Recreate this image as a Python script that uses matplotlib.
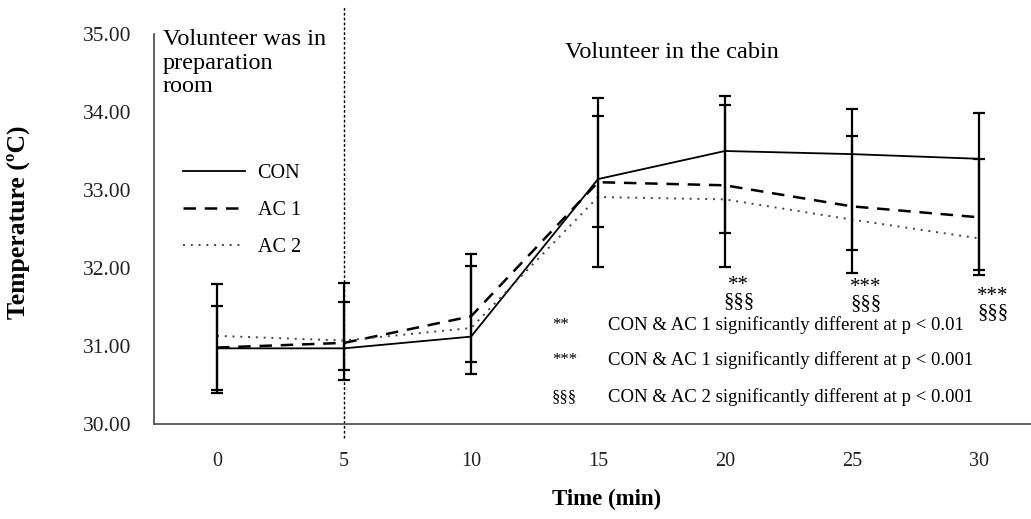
import matplotlib
matplotlib.use("Agg")
import matplotlib.pyplot as plt
import numpy as np

plt.rcParams['font.family'] = ['Liberation Serif', 'DejaVu Serif']

time = [0, 5, 10, 15, 20, 25, 30]
con = [30.97, 30.97, 31.12, 33.14, 33.50, 33.46, 33.40]
ac1 = [30.98, 31.04, 31.38, 33.10, 33.06, 32.79, 32.65]
ac2 = [31.13, 31.07, 31.23, 32.91, 32.88, 32.62, 32.38]
con_upper = [31.79, 31.81, 32.18, 34.18, 34.21, 34.04, 33.99]
con_lower = [30.40, 30.56, 30.64, 32.01, 32.01, 31.94, 31.91]
ac1_upper = [31.51, 31.56, 32.03, 33.95, 34.09, 33.69, 33.40]
ac1_lower = [30.44, 30.69, 30.79, 32.53, 32.45, 32.23, 31.97]
yticks = [30, 31, 32, 33, 34, 35]
sig_x = [20, 25, 30]
sig_labels = ["**\n§§§", "***\n§§§", "***\n§§§"]
sig_y = [31.45, 31.42, 31.31]
notes_sym = ["**", "***", "§§§"]
notes_txt = ["CON & AC 1 significantly different at p < 0.01",
             "CON & AC 1 significantly different at p < 0.001",
             "CON & AC 2 significantly different at p < 0.001"]

W, H = 1031, 519
fig = plt.figure(figsize=(W / 100, H / 100), dpi=100)
ax = fig.add_axes([153.5 / W, 1 - 424 / H, 889 / W, 390 / H])
ax.set_xlim(-2.5, 32.5)
ax.set_ylim(30, 35)

t = np.array(time)
ax.plot(t, con, color='black', lw=1.3, ls='-', label='CON', zorder=3)
ax.plot(t, ac1, color='black', lw=1.8, ls=(0, (5, 3.5)), label='AC 1', zorder=3)
ax.plot(t, ac2, color='#444444', lw=1.4, ls=(0, (1, 3)), label='AC 2', zorder=3)

for mean, up, lo in [(con, con_upper, con_lower), (ac1, ac1_upper, ac1_lower)]:
    m = np.array(mean)
    yerr = [m - np.array(lo), np.array(up) - m]
    ax.errorbar(t, m, yerr=yerr, fmt='none', ecolor='black', elinewidth=1.6,
                capsize=4, capthick=1.6, zorder=4)

ax.axvline(5, ymin=-0.035, ymax=1.07, color='black', lw=1.0, ls=(0, (2, 1.5)),
           clip_on=False, zorder=2)

ax.set_xticks(time)
ax.set_yticks(yticks)
ax.set_yticklabels([f"{v:.2f}" for v in yticks])
ax.tick_params(axis='both', length=0, colors='#222222')
ax.tick_params(axis='y', pad=16, labelsize=15.5)
ax.tick_params(axis='x', pad=20, labelsize=14.5)
for s in ['top', 'right']:
    ax.spines[s].set_visible(False)
for s in ['left', 'bottom']:
    ax.spines[s].set_color('#555555')
    ax.spines[s].set_linewidth(1.3)

leg = ax.legend(loc='upper left', bbox_to_anchor=(183 / W, 1 - 164 / H),
                bbox_transform=fig.transFigure, frameon=False, fontsize=14.5,
                handlelength=3.1, handletextpad=0.6, labelspacing=0.88,
                borderpad=0, borderaxespad=0)

for x, lab, y in zip(sig_x, sig_labels, sig_y):
    ax.text(x + 0.55, y, lab, ha='center', va='bottom', fontsize=15,
            linespacing=0.8)

for i, (sym, txt) in enumerate(zip(notes_sym, notes_txt)):
    y = [31.27, 30.82, 30.35][i]
    ax.text(13.19, y, sym, ha='left', va='center', fontsize=12)
    ax.text(15.39, y, txt, ha='left', va='center', fontsize=13.5)

ax.text(-2.13, 35.06, "Volunteer was in\npreparation\nroom", ha='left', va='top',
        fontsize=17.5, linespacing=1.15, clip_on=False)
ax.text(13.70, 34.76, "Volunteer in the cabin", ha='left', va='center',
        fontsize=17.5)

fig.text(18 / W, 1 - 222 / H, "Temperature (ºC)", rotation=90, ha='center',
         va='center', fontsize=18.5, fontweight='bold')
fig.text(607 / W, 1 - 499 / H, "Time (min)", ha='center', va='center',
         fontsize=16.5, fontweight='bold')

fig.savefig("out.png", dpi=100)
